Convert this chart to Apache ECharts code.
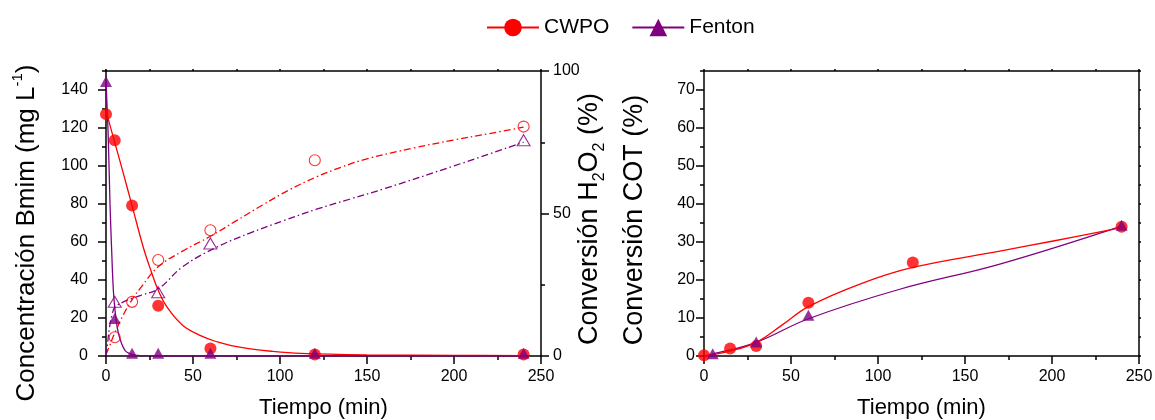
<!DOCTYPE html>
<html>
<head>
<meta charset="utf-8">
<script src="https://cdn.jsdelivr.net/npm/echarts@6/dist/echarts.min.js"></script>
<style>
  html, body { margin: 0; padding: 0; background: #fff; }
  #chart { width: 1155px; height: 420px; }
</style>
</head>
<body>
<div id="chart"></div>
<script>
// ---- Measured points ----
// Bmim concentration (mg/L)
const tBmimCwpo = [0, 5, 15, 30, 60, 120, 240];
const bmimCwpo = [127.3, 113.5, 79.2, 26.5, 3.9, 0.8, 0.8];
const tBmimFenton = [0, 5, 15, 30, 60, 120, 240];
const bmimFenton = [144.5, 19.7, 1.5, 1.5, 1.5, 1.5, 1.5];

// H2O2 conversion (%)
const tH2o2Cwpo = [5, 15, 30, 60, 120, 240];
const h2o2Cwpo = [6.6, 19.0, 33.7, 44.1, 68.7, 80.5];
const tH2o2Fenton = [5, 30, 60, 240];
const h2o2Fenton = [19.0, 22.4, 39.5, 75.7];

// TOC conversion (%)
const tCotCwpo = [0, 15, 30, 60, 120, 240];
const cotCwpo = [0.2, 2.0, 2.6, 14.0, 24.6, 34.0];
const tCotFenton = [5, 30, 60, 240];
const cotFenton = [0.6, 3.7, 10.7, 34.4];

// ---- Fitted curves ----
const tBmimCwpoFit = [0, 5, 10, 15, 21.5, 26, 30, 35, 44, 54, 64, 72, 82, 95, 112, 150, 200, 240];
const bmimCwpoFit = [129, 112.5, 96, 79, 57, 44.5, 34.6, 25.8, 16.2, 10.9, 7.4, 5.5, 3.9, 2.5, 1.4, 0.6, 0.3, 0.2];
const tBmimFentonFit = [0, 1.3, 2.3, 3.2, 4.2, 5.2, 6, 7.1, 9, 10.9, 13, 16, 20, 30, 60, 240];
const bmimFentonFit = [145, 115, 80, 57, 35, 24, 18, 12, 6.5, 3, 1.5, 0.6, 0.2, 0, 0, 0];

const tH2o2CwpoFit = [0, 2, 5, 10, 15, 20, 30, 44, 60, 75, 90, 105, 120, 135, 150, 177, 200, 220, 240];
const h2o2CwpoFit = [0.5, 3.5, 8, 14.5, 19.8, 24, 31.3, 36.8, 42, 47.5, 53, 58.2, 62.6, 66.2, 69.2, 73, 75.8, 78, 80.3];
const tH2o2FentonFit = [0, 1, 2, 3.5, 5, 10, 15, 20, 30, 44, 64, 83, 102, 121, 140, 160, 200, 240];
const h2o2FentonFit = [0, 5, 10, 14.5, 17, 19, 20.2, 21.3, 23.5, 31.3, 38.3, 43.2, 47.5, 51.5, 55, 58.7, 66.7, 75];

const tCotCwpoFit = [0, 15, 30, 45, 60, 90, 120, 170, 200, 240];
const cotCwpoFit = [0, 1.3, 3.6, 8.2, 13, 19, 23.3, 27.6, 30.2, 33.8];
const tCotFentonFit = [0, 5, 30, 60, 112, 170, 240];
const cotFentonFit = [0, 0.5, 3.6, 9.8, 17.5, 24.2, 34.2];

// ---- Tick labels ----
const bmimTicks = [0, 20, 40, 60, 80, 100, 120, 140];
const h2o2Ticks = [0, 50, 100];
const cotTicks = [0, 10, 20, 30, 40, 50, 60, 70];

const FONT = '"Liberation Sans", Arial, Helvetica, sans-serif';
const RED = '#ff0000';
const PURPLE = '#800080';
const BLACK = '#000';

const zip = (xs, ys) => xs.map((x, i) => [x, ys[i]]);

const lineBlack = { color: BLACK, width: 1.5 };

function mainX(grid) {
  return {
    gridIndex: grid, type: 'value', position: 'bottom', min: 0, max: 250, interval: 50,
    axisLine: { show: true, onZero: false, lineStyle: lineBlack },
    axisTick: { show: true, length: 8, lineStyle: lineBlack },
    minorTick: { show: true, splitNumber: 2, length: 4, lineStyle: lineBlack },
    axisLabel: { fontSize: 16, color: BLACK, fontFamily: FONT, margin: 13 },
    splitLine: { show: false },
    name: 'Tiempo (min)', nameLocation: 'middle', nameGap: 41,
    nameTextStyle: { fontSize: 22, color: BLACK, fontFamily: FONT }
  };
}
function topX(grid) {
  return {
    gridIndex: grid, type: 'value', position: 'top', min: 0, max: 250, interval: 25,
    axisLine: { show: true, onZero: false, lineStyle: lineBlack },
    axisTick: { show: true, length: 2, lineStyle: lineBlack },
    axisLabel: { show: false }, splitLine: { show: false }
  };
}
function minorY(grid, max, step, pos, len) {
  return {
    gridIndex: grid, type: 'value', position: pos, min: 0, max: max, interval: step,
    axisLine: { show: pos === 'right', onZero: false, lineStyle: lineBlack },
    axisTick: { show: true, length: len, lineStyle: lineBlack },
    axisLabel: { show: false }, splitLine: { show: false }
  };
}
function mainY(grid, max, ticks, margin) {
  return {
    gridIndex: grid, type: 'value', position: 'left', min: 0, max: max,
    axisLine: { show: true, onZero: false, lineStyle: lineBlack },
    axisTick: { show: true, length: 8, lineStyle: lineBlack, customValues: ticks },
    axisLabel: { fontSize: 16, color: BLACK, fontFamily: FONT, margin: margin, customValues: ticks },
    splitLine: { show: false }
  };
}

function fitLine(name, color, symbol, xi, yi, pts, dashed) {
  return {
    name: name, type: 'line', xAxisIndex: xi, yAxisIndex: yi, data: pts,
    symbol: symbol, showSymbol: false, smooth: 0.4,
    lineStyle: { color: color, width: 1.3, type: dashed ? [7, 3, 1.5, 3] : 'solid' },
    itemStyle: { color: color }, z: 2, silent: true
  };
}
function marks(name, color, symbol, size, xi, yi, pts, open) {
  return {
    name: name, type: 'scatter', xAxisIndex: xi, yAxisIndex: yi, data: pts,
    symbol: symbol, symbolSize: size, clip: false,
    itemStyle: open
      ? { color: 'rgba(0,0,0,0)', borderColor: color, borderWidth: 1.1 }
      : { color: color },
    z: 3, silent: true
  };
}

const CIRCLE = 12, OCIRCLE = 11, TRI = [12, 11], OTRI = [13, 11];

const option = {
  animation: false,
  backgroundColor: '#fff',
  textStyle: { fontFamily: FONT },
  legend: {
    data: ['CWPO', 'Fenton'], left: 481, top: 12, orient: 'horizontal',
    itemWidth: 52, itemHeight: 22, itemGap: 22, selectedMode: false,
    textStyle: { fontSize: 21, color: BLACK, fontFamily: FONT }
  },
  grid: [
    { left: 106, top: 71, width: 435, height: 285, outerBoundsMode: 'none' },
    { left: 704, top: 71, width: 435, height: 285, outerBoundsMode: 'none' }
  ],
  xAxis: [mainX(0), topX(0), mainX(1), topX(1)],
  yAxis: [
    mainY(0, 150, bmimTicks, 18),
    minorY(0, 150, 10, 'left', 4),
    {
      gridIndex: 0, type: 'value', position: 'right', min: 0, max: 100, interval: 50,
      axisLine: { show: true, onZero: false, lineStyle: lineBlack },
      axisTick: { show: true, length: 8, lineStyle: lineBlack },
      minorTick: { show: true, splitNumber: 2, length: 4, lineStyle: lineBlack },
      axisLabel: { fontSize: 16, color: BLACK, fontFamily: FONT, margin: 12 },
      splitLine: { show: false }
    },
    mainY(1, 75, cotTicks, 9),
    minorY(1, 75, 5, 'left', 4),
    minorY(1, 75, 5, 'right', 2)
  ],
  graphic: [
    {
      type: 'text', x: 27, y: 233, rotation: Math.PI / 2,
      style: {
        text: '{n|Concentración Bmim (mg L}{s|-1}{n|)}',
        align: 'center', verticalAlign: 'middle', textAlign: 'center', textVerticalAlign: 'middle',
        rich: {
          n: { fontSize: 26, lineHeight: 34, fill: BLACK, fontFamily: FONT },
          s: { fontSize: 15, lineHeight: 15, verticalAlign: 'top', fill: BLACK, fontFamily: FONT }
        }
      }
    },
    {
      type: 'text', x: 590, y: 219, rotation: Math.PI / 2,
      style: {
        text: '{n|Conversión H}{b|2}{n|O}{b|2}{n| (%)}',
        align: 'center', verticalAlign: 'middle', textAlign: 'center', textVerticalAlign: 'middle',
        rich: {
          n: { fontSize: 27, lineHeight: 36, fill: BLACK, fontFamily: FONT },
          b: { fontSize: 16, lineHeight: 16, verticalAlign: 'bottom', fill: BLACK, fontFamily: FONT }
        }
      }
    },
    {
      type: 'text', x: 635, y: 220, rotation: Math.PI / 2,
      style: {
        text: 'Conversión COT (%)',
        align: 'center', verticalAlign: 'middle', textAlign: 'center', textVerticalAlign: 'middle',
        fontSize: 27, fill: BLACK, fontFamily: FONT
      }
    }
  ],
  series: [
    fitLine('CWPO', RED, 'circle', 0, 0, zip(tBmimCwpoFit, bmimCwpoFit), false),
    fitLine('Fenton', PURPLE, 'triangle', 0, 0, zip(tBmimFentonFit, bmimFentonFit), false),
    fitLine('CWPO', RED, 'circle', 0, 2, zip(tH2o2CwpoFit, h2o2CwpoFit), true),
    fitLine('Fenton', PURPLE, 'triangle', 0, 2, zip(tH2o2FentonFit, h2o2FentonFit), true),
    fitLine('Fenton', PURPLE, 'triangle', 2, 3, zip(tCotFentonFit, cotFentonFit), false),
    fitLine('CWPO', RED, 'circle', 2, 3, zip(tCotCwpoFit, cotCwpoFit), false),

    marks('CWPO', RED, 'circle', CIRCLE, 0, 0, zip(tBmimCwpo, bmimCwpo), false),
    marks('CWPO', RED, 'circle', OCIRCLE, 0, 2, zip(tH2o2Cwpo, h2o2Cwpo), true),
    marks('Fenton', PURPLE, 'triangle', TRI, 0, 0, zip(tBmimFenton, bmimFenton), false),
    marks('Fenton', PURPLE, 'triangle', OTRI, 0, 2, zip(tH2o2Fenton, h2o2Fenton), true),
    marks('CWPO', RED, 'circle', CIRCLE, 2, 3, zip(tCotCwpo, cotCwpo), false),
    marks('Fenton', PURPLE, 'triangle', TRI, 2, 3, zip(tCotFenton, cotFenton), false)
  ]
};

const chart = echarts.init(document.getElementById('chart'), null, { renderer: 'canvas' });
chart.setOption(option);
</script>
</body>
</html>
